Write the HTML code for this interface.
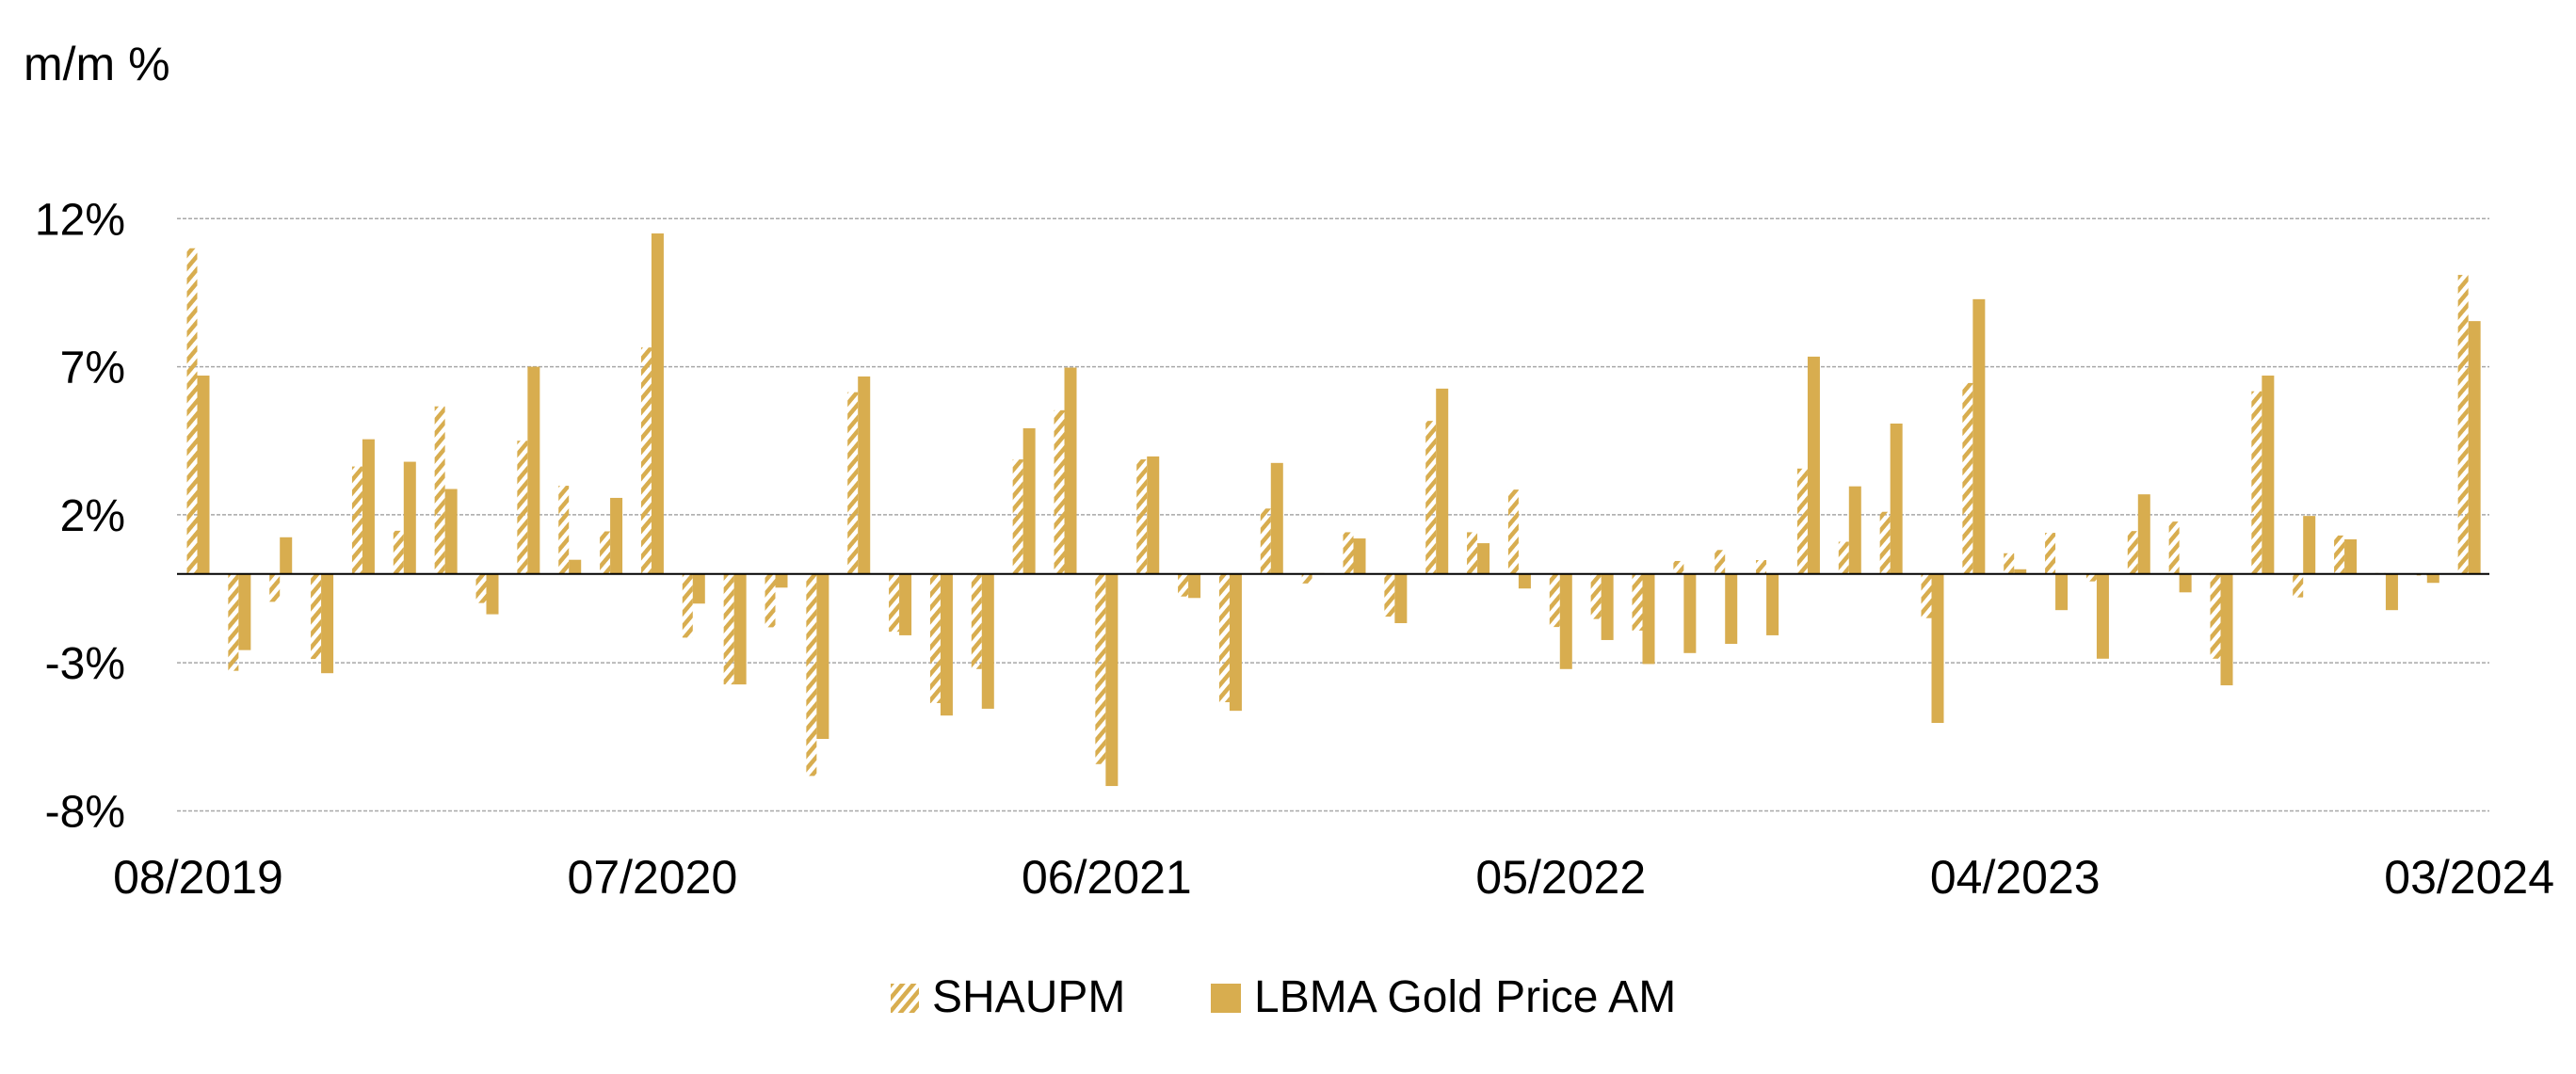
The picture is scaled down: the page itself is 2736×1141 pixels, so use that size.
<!DOCTYPE html>
<html><head><meta charset="utf-8"><style>
html,body{margin:0;padding:0;background:#fff;}
svg{display:block;font-family:"Liberation Sans",sans-serif;}
</style></head><body>
<svg id="chart" width="2736" height="1141" viewBox="0 0 2736 1141" xmlns="http://www.w3.org/2000/svg">
<defs>
<pattern id="hatch" width="9" height="9" patternUnits="userSpaceOnUse" patternTransform="rotate(40)">
<rect x="0" y="0" width="4.5" height="9" fill="#D8AD4F"/>
</pattern>
</defs>
<text x="25" y="85" font-size="50" fill="#000">m/m %</text>
<g id="grid"></g>
<g id="bars"></g>
<g id="labels"></g>
<g>
<rect x="946" y="1045" width="30" height="31" fill="url(#hatch)"/>
<text x="990" y="1075" font-size="48">SHAUPM</text>
<rect x="1286" y="1045" width="32" height="31" fill="#D8AD4F"/>
<text x="1332" y="1075" font-size="48">LBMA Gold Price AM</text>
</g>
</svg>
<script>
const shaupm = [11.0,-3.27,-0.94,-2.87,3.63,1.46,5.66,-0.98,4.5,2.98,1.44,7.65,-2.15,-3.73,-1.8,-6.82,6.14,-1.95,-4.36,-3.21,3.87,5.53,-6.42,3.87,-0.76,-4.33,2.21,-0.32,1.41,-1.44,5.17,1.41,2.85,-1.79,-1.52,-1.91,0.44,0.81,0.47,3.56,1.09,2.1,-1.49,6.45,0.7,1.39,-0.25,1.45,1.77,-2.86,6.17,-0.79,1.3,0.03,-0.05,10.1];
const lbma = [6.7,-2.57,1.24,-3.35,4.55,3.79,2.87,-1.36,7.0,0.48,2.57,11.5,-1.0,-3.73,-0.46,-5.57,6.67,-2.07,-4.78,-4.55,4.92,6.97,-7.16,3.97,-0.81,-4.62,3.75,0.03,1.2,-1.66,6.26,1.04,-0.49,-3.21,-2.23,-3.04,-2.67,-2.36,-2.07,7.34,2.96,5.08,-5.03,9.28,0.16,-1.22,-2.86,2.69,-0.62,-3.76,6.7,1.96,1.17,-1.22,-0.3,8.54];
const yTicks = [12,7,2,-3,-8];
const xTickLabels = ["08/2019","07/2020","06/2021","05/2022","04/2023","03/2024"];
const xTickIndex = [0,11,22,33,44,55];

const NS="http://www.w3.org/2000/svg";
const plotL=188, plotR=2644, zeroY=609.8, perPct=31.46;
const n=shaupm.length, step=(plotR-plotL)/n;
function y(v){return zeroY - v*perPct;}
function groupX(i){return plotL + 10.5 + i*step;}
function mk(tag,attrs,parent){const e=document.createElementNS(NS,tag);for(const k in attrs)e.setAttribute(k,attrs[k]);parent.appendChild(e);return e;}
const grid=document.getElementById('grid'), bars=document.getElementById('bars'), labels=document.getElementById('labels');
yTicks.forEach(t=>{
  const l=mk('line',{x1:plotL,x2:plotR,y1:y(t),y2:y(t),stroke:'#a8a8a8','stroke-width':1.5,'stroke-dasharray':'4 2'},grid);
  
  
  const tx=mk('text',{x:133,y:y(t)+17,'font-size':48,'text-anchor':'end'},labels);
  tx.textContent=t+'%';
  
  
});
for(let i=0;i<n;i++){
  const gx=groupX(i);
  const a=shaupm[i], b=lbma[i];
  const r1=mk('rect',{x:gx,y:Math.min(y(a),zeroY),width:11,height:Math.abs(y(a)-zeroY),fill:'url(#hatch)'},bars);
  
  
  const r2=mk('rect',{x:gx+11,y:Math.min(y(b),zeroY),width:13,height:Math.abs(y(b)-zeroY),fill:'#D8AD4F'},bars);
  
  
}
const zl=mk('line',{x1:plotL,x2:plotR,y1:zeroY,y2:zeroY,stroke:'#000','stroke-width':2},bars);


xTickLabels.forEach((s,k)=>{
  const cx=groupX(xTickIndex[k])+12;
  const tx=mk('text',{x:cx,y:949,'font-size':50,'text-anchor':'middle'},labels);
  tx.textContent=s;
  
  
});
</script>
</body></html>
